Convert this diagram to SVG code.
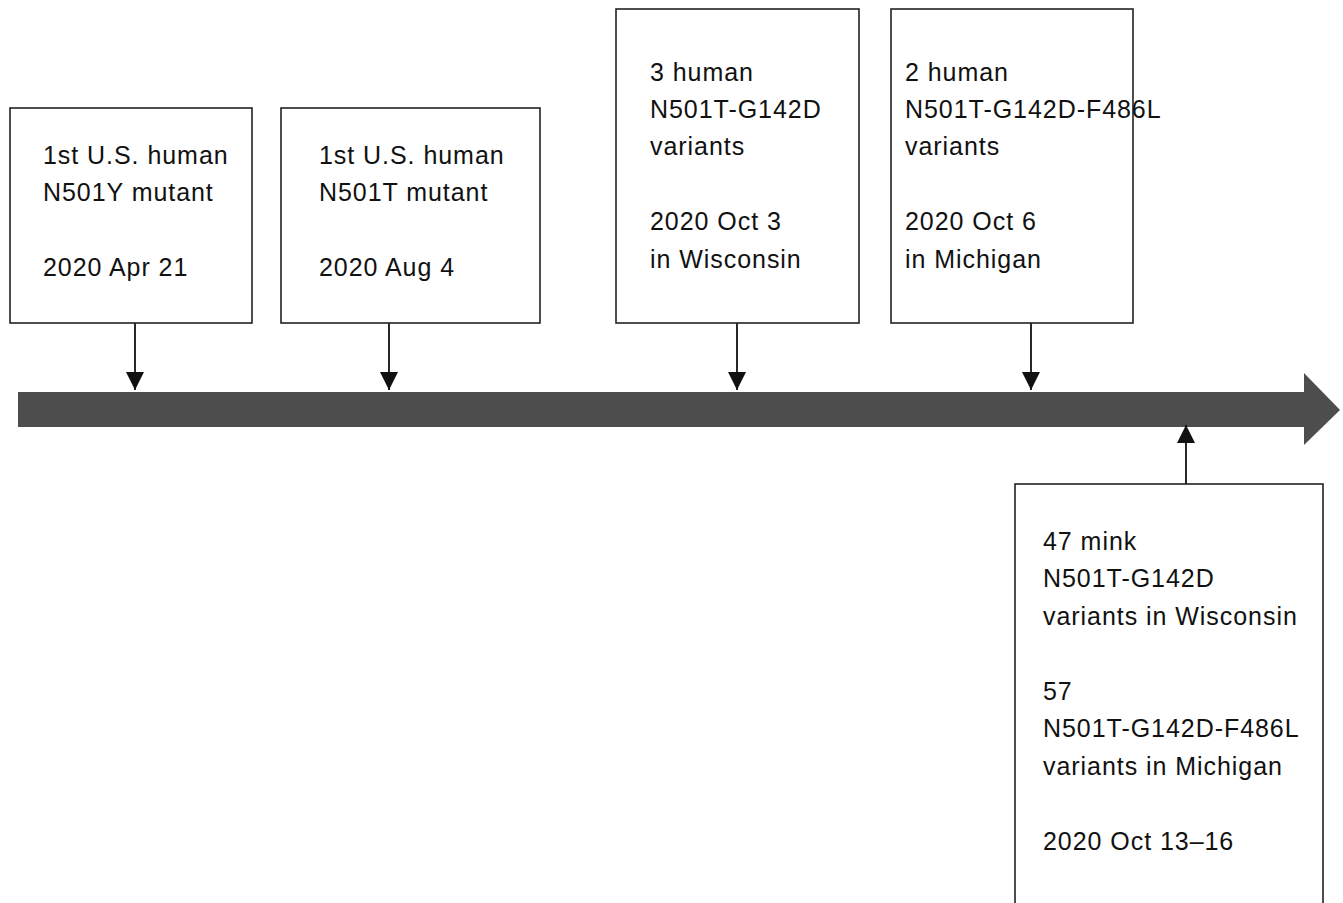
<svg xmlns="http://www.w3.org/2000/svg" width="1343" height="903" viewBox="0 0 1343 903">
<style>
.box{fill:#fff;stroke:#222;stroke-width:1.6}
.t{font-family:"Liberation Sans",Arial,sans-serif;font-size:25px;letter-spacing:0.95px;fill:#111}
.c{stroke:#111;stroke-width:1.8;fill:none}
</style>
<defs>
<marker id="ah" viewBox="0 0 18 18" refX="18" refY="9" markerWidth="18" markerHeight="18" markerUnits="userSpaceOnUse" orient="auto">
<path d="M0,0 L18,9 L0,18 Z" fill="#111"/>
</marker>
</defs>
<rect width="1343" height="903" fill="#fff"/>
<g id="timeline">
<path d="M18,392 L1304,392 L1304,373 L1340,410 L1304,445 L1304,427 L18,427 Z" fill="#4d4d4d"/>
</g>
<g id="connectors">
<line class="c" x1="135" y1="323" x2="135" y2="390" marker-end="url(#ah)"/>
<line class="c" x1="389" y1="323" x2="389" y2="390" marker-end="url(#ah)"/>
<line class="c" x1="737" y1="323" x2="737" y2="390" marker-end="url(#ah)"/>
<line class="c" x1="1031" y1="323" x2="1031" y2="390" marker-end="url(#ah)"/>
<line class="c" x1="1186" y1="484" x2="1186" y2="425" marker-end="url(#ah)"/>
</g>
<g id="node1">
<rect class="box" x="10" y="108" width="242" height="215"/>
<text class="t" x="43" y="164">1st U.S. human</text>
<text class="t" x="43" y="201">N501Y mutant</text>
<text class="t" x="43" y="276">2020 Apr 21</text>
</g>
<g id="node2">
<rect class="box" x="281" y="108" width="259" height="215"/>
<text class="t" x="319" y="164">1st U.S. human</text>
<text class="t" x="319" y="201">N501T mutant</text>
<text class="t" x="319" y="276">2020 Aug 4</text>
</g>
<g id="node3">
<rect class="box" x="616" y="9" width="243" height="314"/>
<text class="t" x="650" y="81">3 human</text>
<text class="t" x="650" y="118">N501T-G142D</text>
<text class="t" x="650" y="155">variants</text>
<text class="t" x="650" y="230">2020 Oct 3</text>
<text class="t" x="650" y="268">in Wisconsin</text>
</g>
<g id="node4">
<rect class="box" x="891" y="9" width="242" height="314"/>
<text class="t" x="905" y="81">2 human</text>
<text class="t" x="905" y="118">N501T-G142D-F486L</text>
<text class="t" x="905" y="155">variants</text>
<text class="t" x="905" y="230">2020 Oct 6</text>
<text class="t" x="905" y="268">in Michigan</text>
</g>
<g id="node5">
<rect class="box" x="1015" y="484" width="308" height="430"/>
<text class="t" x="1043" y="550">47 mink</text>
<text class="t" x="1043" y="587">N501T-G142D</text>
<text class="t" x="1043" y="625">variants in Wisconsin</text>
<text class="t" x="1043" y="700">57</text>
<text class="t" x="1043" y="737">N501T-G142D-F486L</text>
<text class="t" x="1043" y="775">variants in Michigan</text>
<text class="t" x="1043" y="850">2020 Oct 13–16</text>
</g>
</svg>
